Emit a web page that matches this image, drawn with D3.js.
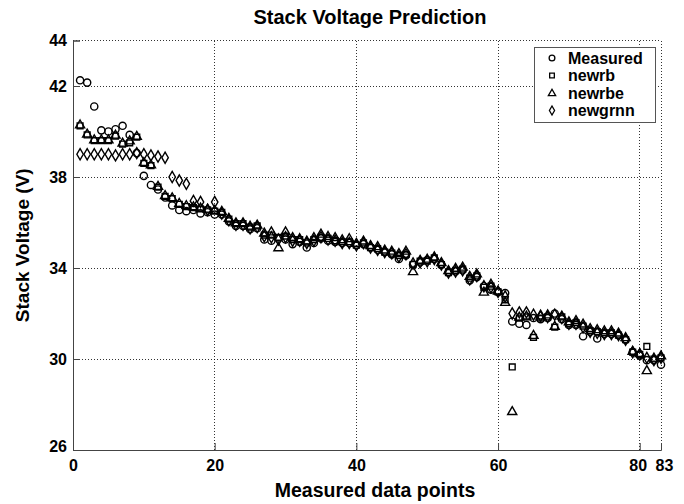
<!DOCTYPE html>
<html>
<head>
<meta charset="utf-8">
<script src="https://cdn.jsdelivr.net/npm/d3@7"></script>
<style>
  html, body { margin: 0; padding: 0; background: #fff; }
  svg text { font-family: "Liberation Sans", Arial, Helvetica, sans-serif; font-weight: bold; fill: #000; }
</style>
</head>
<body>
<svg id="chart" width="684" height="504"></svg>
<script>
// Stack voltage per measured data point (1..83)
const measured = [
  42.25, 42.15, 41.1, 40.05, 40.0, 40.1, 40.25, 39.85, 39.05, 38.05,
  37.65, 37.45, 37.1, 36.75, 36.55, 36.5, 36.55, 36.4, 36.45, 36.35,
  36.35, 36.05, 35.85, 35.85, 35.7, 35.75, 35.25, 35.2, 35.3, 35.25,
  35.05, 35.15, 34.9, 35.1, 35.3, 35.2, 35.15, 35.1, 35.1, 35.0,
  35.05, 34.9, 34.8, 34.7, 34.6, 34.4, 34.55, 34.15, 34.25, 34.35,
  34.4, 34.15, 33.8, 33.85, 33.9, 33.45, 33.6, 33.2, 33.05, 32.95,
  32.9, 31.65, 31.55, 31.5, 31.8, 31.75, 31.8, 32.0, 31.75, 31.5,
  31.5, 31.0, 31.2, 30.9, 31.1, 31.1, 31.05, 30.85, 30.3, 30.15,
  29.95, 29.95, 29.75
];
const newrb = [
  40.25, 39.85, 39.6, 39.6, 39.6, 39.8, 39.45, 39.5, 39.75, 38.6,
  38.5, 37.55, 37.15, 37.05, 36.8, 36.7, 36.65, 36.6, 36.55, 36.5,
  36.45, 36.15, 35.95, 35.95, 35.8, 35.85, 35.45, 35.45, 35.35, 35.4,
  35.25, 35.25, 35.1, 35.25, 35.35, 35.3, 35.2, 35.15, 35.15, 35.0,
  35.1, 34.9, 34.85, 34.7, 34.65, 34.55, 34.6, 34.15, 34.3, 34.3,
  34.45, 34.15, 33.8, 33.9, 33.95, 33.55, 33.65, 33.15, 33.2, 32.95,
  32.6, 29.65, 31.8, 31.85, 30.95, 31.8, 31.85, 31.4, 31.85, 31.55,
  31.6, 31.45, 31.25, 31.2, 31.15, 31.15, 31.05, 30.85, 30.3, 30.2,
  30.55, 30.0, 30.05
];
const newrbe = [
  40.3, 39.9, 39.65, 39.65, 39.65, 39.85, 39.5, 39.6, 39.8, 38.65,
  38.55, 37.6, 37.2, 37.1, 36.85, 36.75, 36.7, 36.65, 36.6, 36.55,
  36.5, 36.2, 36.0, 36.0, 35.85, 35.9, 35.55, 35.6, 34.9, 35.6,
  35.35, 35.3, 35.2, 35.35, 35.5, 35.4, 35.35, 35.25, 35.3, 35.1,
  35.2, 35.0, 34.95, 34.8, 34.75, 34.65, 34.75, 33.85, 34.35, 34.4,
  34.5, 34.25, 33.9, 34.0, 34.05, 33.65, 33.75, 32.95, 33.3, 33.0,
  32.5, 27.7, 31.85, 31.9, 31.05, 31.9, 31.95, 31.45, 31.9, 31.65,
  31.7, 31.55, 31.35, 31.3, 31.25, 31.25, 31.15, 30.95, 30.35, 30.25,
  29.5, 30.05, 30.15
];
const newgrnn = [
  39.0, 39.0, 39.0, 39.0, 39.0, 38.95, 39.0, 39.0, 39.05, 39.0,
  38.95, 38.9, 38.85, 38.0, 37.85, 37.7, 36.95, 36.9, 36.55, 36.9,
  36.4, 36.1, 35.9, 35.9, 35.75, 35.8, 35.4, 35.35, 35.25, 35.35,
  35.2, 35.2, 35.1, 35.2, 35.35, 35.25, 35.2, 35.1, 35.1, 35.0,
  35.1, 34.9, 34.8, 34.7, 34.65, 34.5, 34.6, 34.2, 34.25, 34.3,
  34.4, 34.15, 33.8, 33.85, 33.9, 33.5, 33.65, 33.2, 33.15, 32.95,
  32.75, 32.0, 32.05, 32.05, 31.95, 31.9, 31.85, 31.95, 31.8, 31.55,
  31.55, 31.4, 31.2, 31.15, 31.1, 31.1, 31.05, 30.85, 30.3, 30.2,
  30.05, 29.95, 30.05
];
const xTicks = [0, 20, 40, 60, 80, 83];
const yTicks = [26, 30, 34, 38, 42, 44];
const seriesNames = ["Measured", "newrb", "newrbe", "newgrnn"];

const svg = d3.select("#chart");
const margin = { left: 73, right: 23, top: 40.5, bottom: 54 };
const W = 684, H = 504;
const x = d3.scaleLinear().domain([0, 83]).range([margin.left, W - margin.right]);
const y = d3.scaleLinear().domain([26, 44]).range([H - margin.bottom, margin.top]);

// dotted grid
const grid = svg.append("g").attr("stroke", "#000").attr("stroke-width", 0.8)
  .attr("stroke-dasharray", "1,2").attr("shape-rendering", "crispEdges");
xTicks.filter(t => t > 0).forEach(t => {
  grid.append("line").attr("x1", x(t)).attr("x2", x(t)).attr("y1", y(26)).attr("y2", y(44));
});
yTicks.filter(t => t > 26).forEach(t => {
  grid.append("line").attr("x1", x(0)).attr("x2", x(83)).attr("y1", y(t)).attr("y2", y(t));
});

// axes with inward ticks
const xAxis = svg.append("g").attr("transform", `translate(0,${y(26)})`)
  .call(d3.axisBottom(x).tickValues(xTicks).tickSize(-7).tickPadding(10).tickFormat(d3.format("d")));
const yAxis = svg.append("g").attr("transform", `translate(${x(0)},0)`)
  .call(d3.axisLeft(y).tickValues(yTicks).tickSize(-7).tickPadding(6).tickFormat(d3.format("d")));
[xAxis, yAxis].forEach(a => {
  a.select(".domain").attr("stroke", "#444").attr("stroke-width", 1);
  a.selectAll(".tick line").attr("stroke", "#444");
  a.selectAll("text").style("font-size", "16px").style("font-weight", "bold")
    .style("font-family", "'Liberation Sans', Arial, sans-serif").attr("fill", "#000");
});
// keep the "80" and "83" labels from colliding
xAxis.selectAll(".tick").filter(d => d === 80).select("text").attr("dx", -2);
xAxis.selectAll(".tick").filter(d => d === 83).select("text").attr("dx", 3);
yAxis.selectAll(".tick").filter(d => d === 26).select("text").attr("dy", "0.1em");

// marker shapes (scale k shrinks the legend keys)
function drawMarker(g, name, cx, cy, k = 1) {
  if (name === "Measured") {
    g.append("circle").attr("cx", cx).attr("cy", cy).attr("r", 3.6 * k);
  } else {
    const type = { newrb: d3.symbolSquare, newrbe: d3.symbolTriangle, newgrnn: d3.symbolDiamond }[name];
    const size = (name === "newrb" ? 34 : 36) * k * k;
    const dy = name === "newrbe" ? 0.6 * k : 0;
    g.append("path").attr("d", d3.symbol().type(type).size(size)())
      .attr("transform", `translate(${cx},${cy + dy})`);
  }
}

const allSeries = [measured, newrb, newrbe, newgrnn];
const marks = svg.append("g").attr("fill", "none").attr("stroke", "#000").attr("stroke-width", 1.4);
allSeries.forEach((vals, si) => {
  const g = marks.append("g").attr("class", "series-" + seriesNames[si]);
  vals.forEach((v, i) => drawMarker(g, seriesNames[si], x(i + 1), y(v)));
});

// legend
const lg = svg.append("g");
lg.append("rect").attr("x", 534.5).attr("y", 47.5).attr("width", 121).attr("height", 75)
  .attr("fill", "#fff").attr("stroke", "#555").attr("stroke-width", 1);
seriesNames.forEach((name, i) => {
  const cy = 58 + i * 17.5;
  const mg = lg.append("g").attr("fill", "none").attr("stroke", "#000").attr("stroke-width", 1.3);
  drawMarker(mg, name, 552, cy, 0.8);
  lg.append("text").attr("x", 568).attr("y", cy).attr("dy", "0.36em")
    .style("font-size", "16px").text(name);
});

// titles
svg.append("text").attr("x", (x(0) + x(83)) / 2 + 3).attr("y", 24).attr("text-anchor", "middle")
  .style("font-size", "20px").text("Stack Voltage Prediction");
svg.append("text").attr("x", (x(0) + x(83)) / 2 + 8).attr("y", 497).attr("text-anchor", "middle")
  .style("font-size", "19.5px").text("Measured data points");
svg.append("text").attr("transform", `translate(29,${(y(26) + y(44)) / 2}) rotate(-90)`)
  .attr("text-anchor", "middle").style("font-size", "19px").text("Stack Voltage (V)");
</script>
</body>
</html>
